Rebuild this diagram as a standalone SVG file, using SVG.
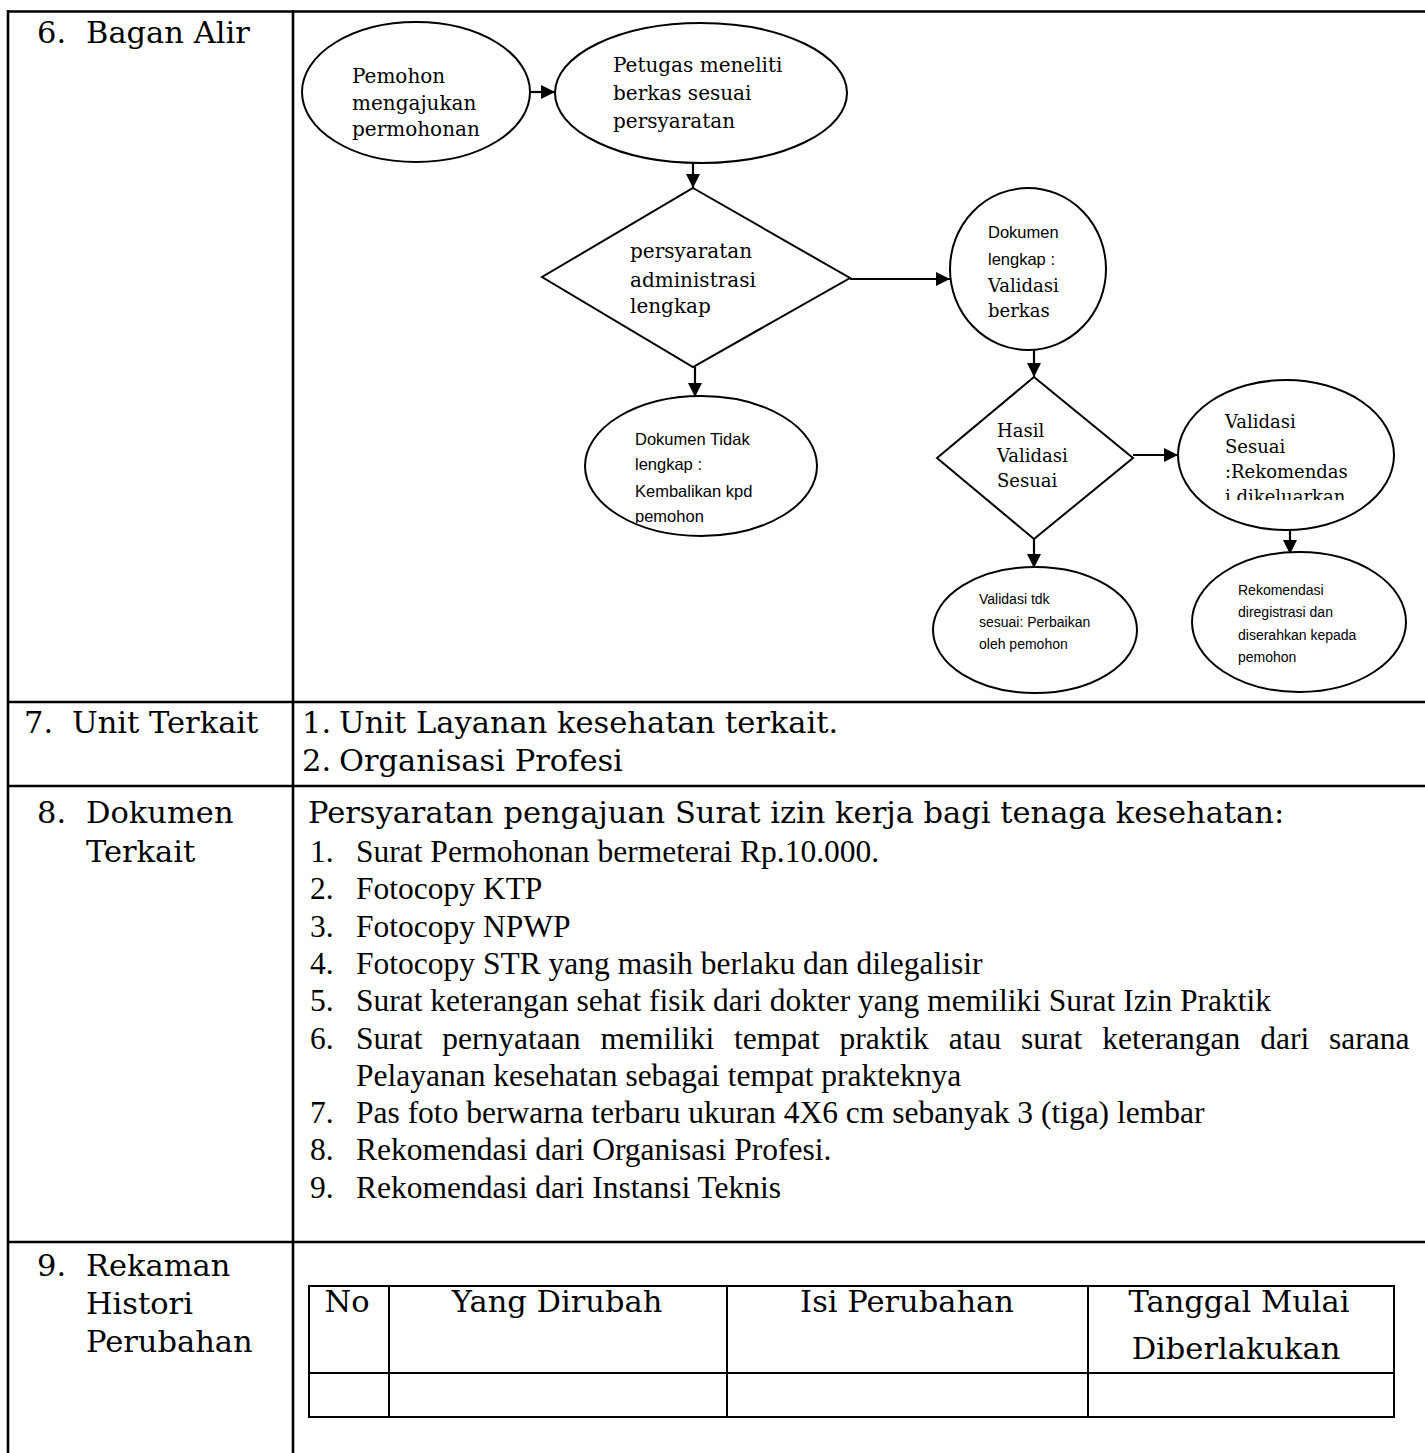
<svg xmlns="http://www.w3.org/2000/svg" width="1425" height="1453" viewBox="0 0 1425 1453">
<style>
.ln{stroke:#000;stroke-width:2.6;fill:none}
.il{stroke:#000;stroke-width:2;fill:none}
.sh{stroke:#000;stroke-width:2;fill:#fff}
.cn{stroke:#000;stroke-width:2.2;fill:none;marker-end:url(#ah)}
.lb{font-family:"DejaVu Serif",serif;font-size:30.5px;fill:#000}
.bk{font-family:"DejaVu Serif",serif;font-size:20px;fill:#000}
.bs{font-family:"DejaVu Serif",serif;font-size:18px;fill:#000}
.sa{font-family:"Liberation Sans",Arial,sans-serif;font-size:16.5px;fill:#000}
.ss{font-family:"Liberation Sans",Arial,sans-serif;font-size:14px;fill:#000}
.tn{font-family:"Liberation Serif","Times New Roman",serif;font-size:31.5px;fill:#000}
.hd{font-family:"DejaVu Serif",serif;font-size:30.5px;fill:#000;text-anchor:middle}
</style>
<defs>
<marker id="ah" viewBox="0 0 10 10" refX="10" refY="5" markerWidth="16" markerHeight="14" markerUnits="userSpaceOnUse" orient="auto"><path d="M0,0 L10,5 L0,10 z" fill="#000"/></marker>
<clipPath id="c1"><rect x="600" y="230" width="200" height="87"/></clipPath>
<clipPath id="c2"><rect x="600" y="420" width="200" height="103"/></clipPath>
<clipPath id="c3"><rect x="1200" y="400" width="200" height="100"/></clipPath>
</defs>
<rect width="1425" height="1453" fill="#fff"/>

<g id="table">
<line class="ln" x1="8" y1="11.5" x2="1425" y2="11.5"/>
<line class="ln" x1="8" y1="10" x2="8" y2="1453"/>
<line class="ln" x1="293" y1="10" x2="293" y2="1453"/>
<line class="ln" x1="8" y1="702" x2="1425" y2="702"/>
<line class="ln" x1="8" y1="786" x2="1425" y2="786"/>
<line class="ln" x1="8" y1="1242" x2="1425" y2="1242"/>
</g>

<g id="labels">
<text class="lb" x="37" y="43">6.</text><text class="lb" x="86" y="43">Bagan Alir</text>
<text class="lb" x="24" y="733">7.</text><text class="lb" x="72" y="733">Unit Terkait</text>
<text class="lb" x="37" y="823">8.</text><text class="lb" x="86" y="823">Dokumen</text>
<text class="lb" x="86" y="862">Terkait</text>
<text class="lb" x="37" y="1276">9.</text><text class="lb" x="86" y="1276">Rekaman</text>
<text class="lb" x="86" y="1314">Histori</text>
<text class="lb" x="86" y="1352">Perubahan</text>
</g>

<g id="unit-terkait">
<text class="lb" x="302" y="733">1.</text><text class="lb" x="339" y="733">Unit Layanan kesehatan terkait.</text>
<text class="lb" x="302" y="771">2.</text><text class="lb" x="339" y="771">Organisasi Profesi</text>
</g>

<g id="dokumen-terkait">
<text class="lb" x="308" y="823">Persyaratan pengajuan Surat izin kerja bagi tenaga kesehatan:</text>
<text class="tn" x="310" y="862">1.</text><text class="tn" x="356" y="862">Surat Permohonan bermeterai Rp.10.000.</text>
<text class="tn" x="310" y="899.3">2.</text><text class="tn" x="356" y="899.3">Fotocopy KTP</text>
<text class="tn" x="310" y="936.6">3.</text><text class="tn" x="356" y="936.6">Fotocopy NPWP</text>
<text class="tn" x="310" y="973.9">4.</text><text class="tn" x="356" y="973.9">Fotocopy STR yang masih berlaku dan dilegalisir</text>
<text class="tn" x="310" y="1011.2">5.</text><text class="tn" x="356" y="1011.2">Surat keterangan sehat fisik dari dokter yang memiliki Surat Izin Praktik</text>
<text class="tn" x="310" y="1048.5">6.</text><text class="tn" x="356" y="1048.5" word-spacing="12">Surat pernyataan memiliki tempat praktik atau surat keterangan dari sarana</text>
<text class="tn" x="356" y="1085.8">Pelayanan kesehatan sebagai tempat prakteknya</text>
<text class="tn" x="310" y="1123.1">7.</text><text class="tn" x="356" y="1123.1">Pas foto berwarna terbaru ukuran 4X6 cm sebanyak 3 (tiga) lembar</text>
<text class="tn" x="310" y="1160.4">8.</text><text class="tn" x="356" y="1160.4">Rekomendasi dari Organisasi Profesi.</text>
<text class="tn" x="310" y="1197.7">9.</text><text class="tn" x="356" y="1197.7">Rekomendasi dari Instansi Teknis</text>
</g>

<g id="history-table">
<rect class="il" x="309" y="1286" width="1085" height="131"/>
<line class="il" x1="309" y1="1373" x2="1394" y2="1373"/>
<line class="il" x1="389" y1="1286" x2="389" y2="1417"/>
<line class="il" x1="727" y1="1286" x2="727" y2="1417"/>
<line class="il" x1="1088" y1="1286" x2="1088" y2="1417"/>
<text class="hd" x="347" y="1312">No</text>
<text class="hd" x="557" y="1312">Yang Dirubah</text>
<text class="hd" x="907" y="1312">Isi Perubahan</text>
<text class="hd" x="1239" y="1312">Tanggal Mulai</text>
<text class="hd" x="1236" y="1359">Diberlakukan</text>
</g>

<g id="connectors">
<line class="cn" x1="530" y1="92" x2="555" y2="92"/>
<line class="cn" x1="693" y1="163" x2="693" y2="188"/>
<line class="cn" x1="850" y1="279" x2="950" y2="279"/>
<line class="cn" x1="695" y1="367" x2="695" y2="397"/>
<line class="cn" x1="1034" y1="347" x2="1034" y2="377"/>
<line class="cn" x1="1133" y1="455" x2="1178" y2="455"/>
<line class="cn" x1="1034" y1="539" x2="1034" y2="568"/>
<line class="cn" x1="1290" y1="529" x2="1290" y2="554"/>
</g>

<g id="n1"><ellipse class="sh" cx="416" cy="92" rx="114" ry="70"/>
<text class="bk" x="352" y="83">Pemohon</text><text class="bk" x="352" y="110">mengajukan</text><text class="bk" x="352" y="136">permohonan</text></g>

<g id="n2"><ellipse class="sh" cx="701" cy="93" rx="146" ry="70"/>
<text class="bk" x="613" y="72">Petugas meneliti</text><text class="bk" x="613" y="100">berkas sesuai</text><text class="bk" x="613" y="128">persyaratan</text></g>

<g id="n3"><polygon class="sh" points="693,188 850,278 693,367 542,277"/>
<g clip-path="url(#c1)"><text class="bk" x="630" y="258">persyaratan</text><text class="bk" x="630" y="287">administrasi</text><text class="bk" x="630" y="313">lengkap</text></g></g>

<g id="n4"><ellipse class="sh" cx="701" cy="466" rx="116" ry="70"/>
<g clip-path="url(#c2)"><text class="sa" x="635" y="445">Dokumen Tidak</text><text class="sa" x="635" y="470">lengkap :</text><text class="sa" x="635" y="497">Kembalikan kpd</text><text class="sa" x="635" y="522">pemohon</text></g></g>

<g id="n5"><ellipse class="sh" cx="1028" cy="269" rx="78" ry="81"/>
<text class="sa" x="988" y="238">Dokumen</text><text class="sa" x="988" y="265">lengkap :</text><text class="bs" x="988" y="292">Validasi</text><text class="bs" x="988" y="317">berkas</text></g>

<g id="n6"><polygon class="sh" points="1034,377 1133,458 1034,539 937,458"/>
<text class="bs" x="997" y="437">Hasil</text><text class="bs" x="997" y="462">Validasi</text><text class="bs" x="997" y="487">Sesuai</text></g>

<g id="n7"><ellipse class="sh" cx="1286" cy="455" rx="108" ry="75"/>
<g clip-path="url(#c3)"><text class="bs" x="1225" y="428">Validasi</text><text class="bs" x="1225" y="453">Sesuai</text><text class="bs" x="1225" y="478">:Rekomendas</text><text class="bs" x="1225" y="503">i dikeluarkan</text></g></g>

<g id="n8"><ellipse class="sh" cx="1035" cy="630" rx="102" ry="63"/>
<text class="ss" x="979" y="604">Validasi tdk</text><text class="ss" x="979" y="627">sesuai: Perbaikan</text><text class="ss" x="979" y="649">oleh pemohon</text></g>

<g id="n9"><ellipse class="sh" cx="1299" cy="622" rx="107" ry="70"/>
<text class="ss" x="1238" y="595">Rekomendasi</text><text class="ss" x="1238" y="617">diregistrasi dan</text><text class="ss" x="1238" y="640">diserahkan kepada</text><text class="ss" x="1238" y="662">pemohon</text></g>
</svg>
